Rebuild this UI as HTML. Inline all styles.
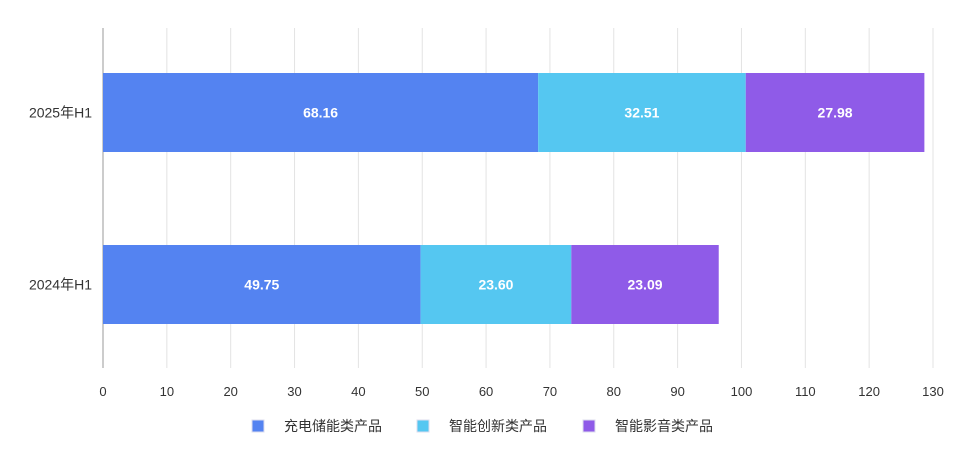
<!DOCTYPE html>
<html><head><meta charset="utf-8">
<style>
html,body{margin:0;padding:0;background:#fff;}
svg{display:block;font-family:"Liberation Sans","Noto Sans CJK SC",sans-serif;}
</style></head>
<body>
<svg id="chart" width="960" height="473" viewBox="0 0 960 473"></svg>
<script>
const categories = ["2025年H1","2024年H1"];
const seriesNames = ["充电储能类产品","智能创新类产品","智能影音类产品"];
const seriesCharging = [68.16, 49.75];
const seriesInnovation = [32.51, 23.60];
const seriesAudio = [27.98, 23.09];
const ticks = [0,10,20,30,40,50,60,70,80,90,100,110,120,130];

const colors = ["#5483F1","#55C7F1","#8F5BE8"];
const series = [seriesCharging, seriesInnovation, seriesAudio];
const NS = "http://www.w3.org/2000/svg";
const svg = document.getElementById("chart");
const x0 = 103, x1 = 933, xMax = 130;
const xs = v => x0 + v / xMax * (x1 - x0);
const rowTop = [73, 245], barH = 79;
const yTop = 28, yBot = 368;

function mk(tag, attrs) {
  const e = document.createElementNS(NS, tag);
  for (const k in attrs) e.setAttribute(k, attrs[k]);
  svg.appendChild(e);
  return e;
}

ticks.forEach((t, i) => {
  const g = mk("line", {x1: xs(t), x2: xs(t), y1: yTop, y2: yBot, stroke: i === 0 ? "#999" : "#e3e3e3", "stroke-width": 1});
  
  
  const tx = mk("text", {x: xs(t), y: 396, "text-anchor": "middle", "font-size": 13, fill: "#333"});
  tx.textContent = t;
  
  
});

categories.forEach((c, ci) => {
  const lab = mk("text", {x: 92, y: rowTop[ci] + barH / 2 + 5, "text-anchor": "end", "font-size": 14, fill: "#333"});
  lab.textContent = c;
  
  
  let acc = 0;
  series.forEach((s, si) => {
    const v = s[ci];
    const r = mk("rect", {x: xs(acc), y: rowTop[ci], width: xs(acc + v) - xs(acc), height: barH, fill: colors[si]});
    
    
    const t = mk("text", {x: (xs(acc) + xs(acc + v)) / 2, y: rowTop[ci] + barH / 2 + 5, "text-anchor": "middle", "font-size": 14, "font-weight": "bold", fill: "#fff"});
    t.textContent = v.toFixed(2);
    
    
    acc += v;
  });
});

const legX = [252, 417, 583];
seriesNames.forEach((n, i) => {
  const r = mk("rect", {x: legX[i], y: 420, width: 12, height: 12, fill: colors[i], stroke: "#dde", "stroke-width": 1});
  
  
  const t = mk("text", {x: legX[i] + 32, y: 431, "font-size": 14, fill: "#333"});
  t.textContent = n;
  
  
});
</script>
</body></html>
